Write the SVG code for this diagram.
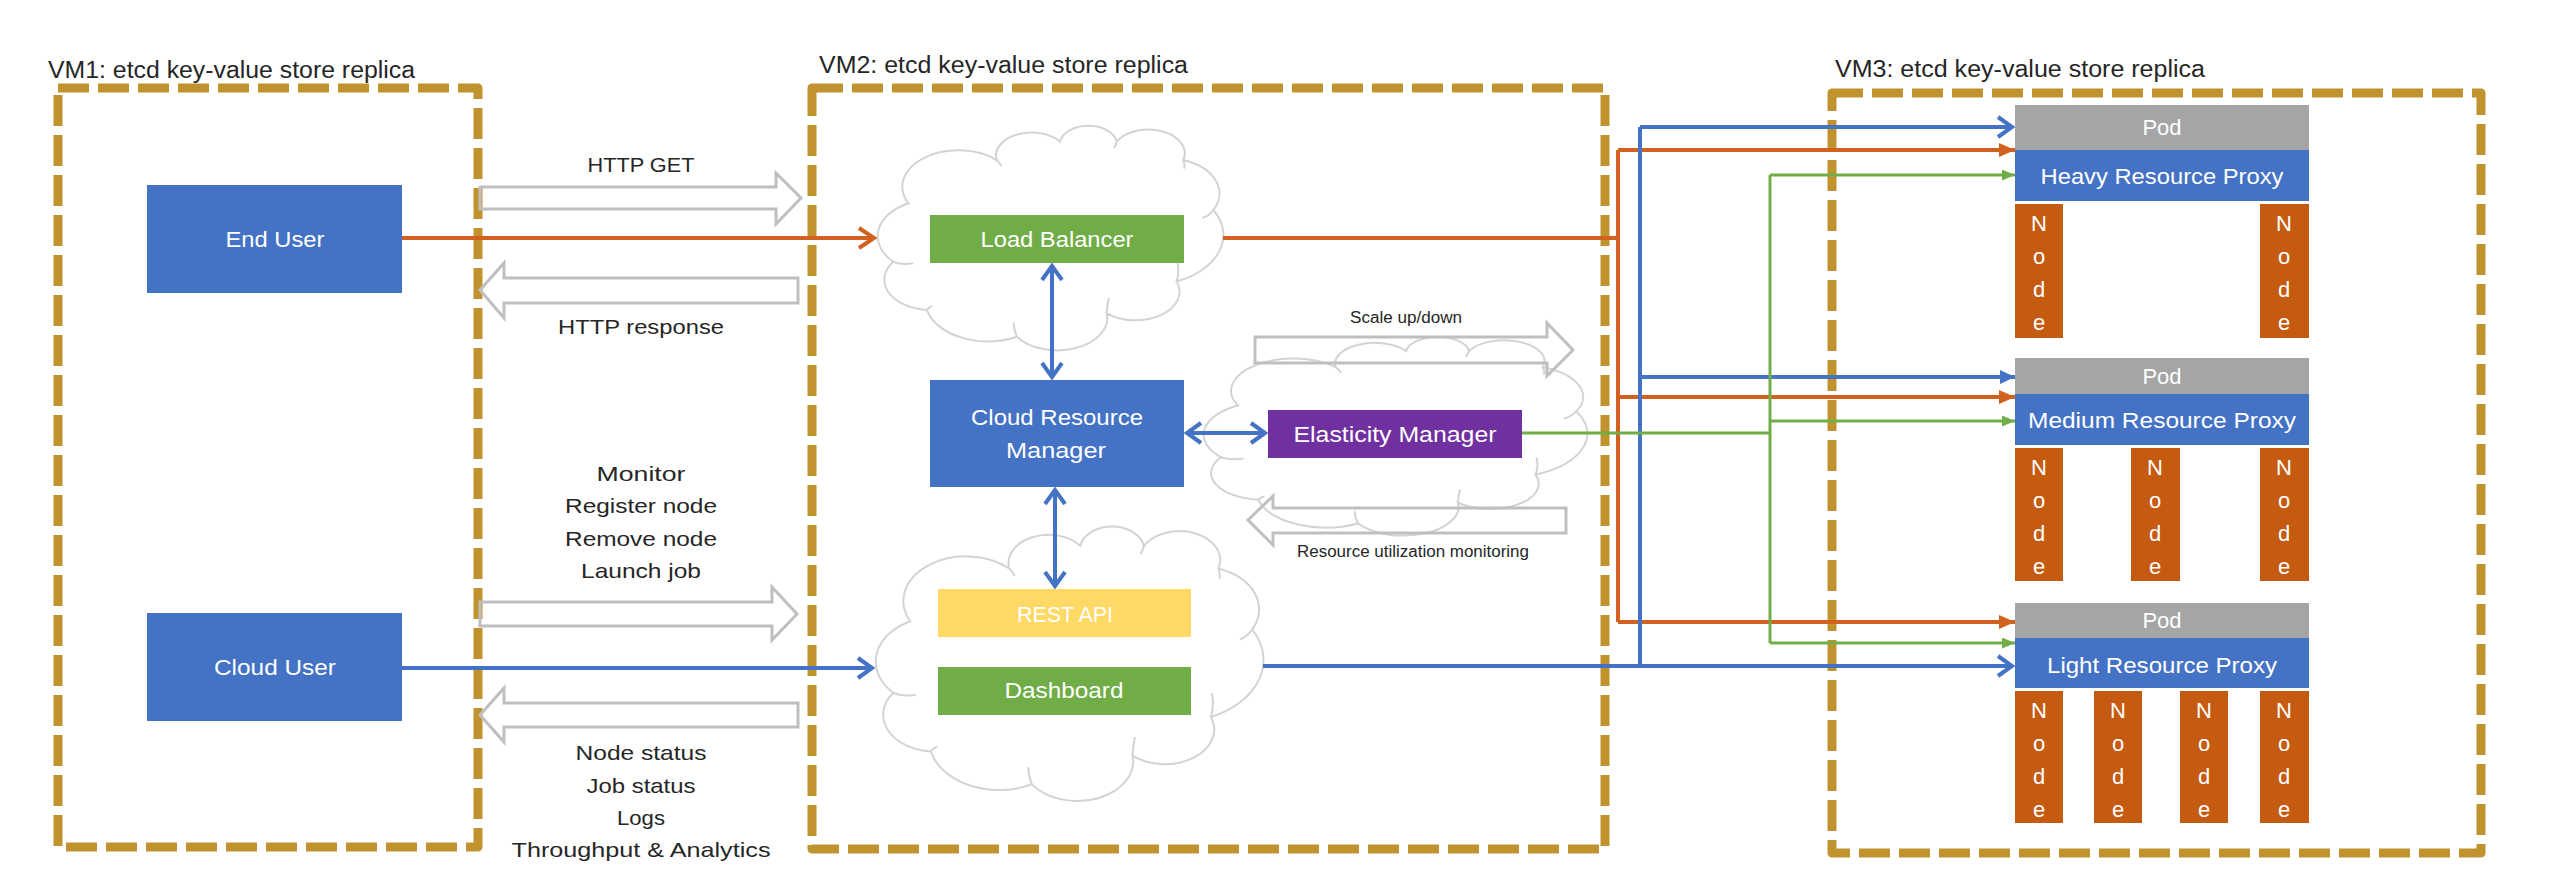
<svg xmlns="http://www.w3.org/2000/svg" width="2558" height="890" viewBox="0 0 2558 890">
<style>
  .vm{fill:none;stroke:#C0932F;stroke-width:9;stroke-dasharray:31 9;stroke-linejoin:round}
  .lbl{font-family:"Liberation Sans",Arial,sans-serif;fill:#262626}
  .vml{font-size:23px}
  .t21{font-size:21px;text-anchor:middle}
  .sm{font-size:16px;text-anchor:middle}
  .bx{font-family:"Liberation Sans",Arial,sans-serif;font-size:22px;fill:#ffffff;text-anchor:middle}
  .blue{fill:#4472C4}
  .green{fill:#70AD47}
  .yellow{fill:#FFD966}
  .purple{fill:#7030A0}
  .pod{fill:#A5A5A5}
  .node{fill:#C55A11}
  .cloud{fill:#ffffff;stroke:#D3D3D3;stroke-width:2}
  .hook{fill:none;stroke:#D3D3D3;stroke-width:2}
  .blk{fill:none;stroke:#BFBFBF;stroke-width:3;stroke-linejoin:miter}
  .lo{stroke:#D2601E;stroke-width:4;fill:none}
  .lb{stroke:#4472C4;stroke-width:4;fill:none}
  .lg{stroke:#70AD47;stroke-width:3;fill:none}
</style>
<defs>
  <g id="cloudShape">
    <path class="cloud" vector-effect="non-scaling-stroke" d="M4.7,59.9 A16.5,16.5 0 0 1 9.1,33.9 A16.2,16.2 0 0 1 34.6,14.7 A10.3,10.3 0 0 1 52.9,6.5 A8.3,8.3 0 0 1 69.3,6.5 A10.5,10.5 0 0 1 88.5,14.7 A15.8,15.8 0 0 1 97.2,36.9 A22.6,22.6 0 0 1 86.6,68.7 A12.7,12.7 0 0 1 66.4,82.8 A14.4,14.4 0 0 1 40.4,93.2 A18.1,18.1 0 0 1 14.4,81.3 A13.5,13.5 0 0 1 4.7,59.9 Z"/>
    <path class="hook" vector-effect="non-scaling-stroke" d="M4.7,59.9 Q7,61.5 10.5,60.6 M34.6,14.7 Q35.5,16 36,17.5 M69.3,6.5 Q69,8 68.5,9.5 M88.5,14.7 Q89,16.5 88.8,18.5 M97.2,36.9 Q96,39.5 94,40.5 M86.6,68.7 Q87.5,64 86.8,60 M66.4,82.8 Q66.5,79 67,76 M40.4,93.2 Q39.5,90 39.5,87 M14.4,81.3 Q15,80 16,79.5"/>
  </g>
  <marker id="chevB" viewBox="0 0 24 24" refX="19" refY="12" markerWidth="24" markerHeight="24" markerUnits="userSpaceOnUse" orient="auto-start-reverse">
    <path d="M5,2 L19,12 L5,22" fill="none" stroke="#4472C4" stroke-width="4"/>
  </marker>
  <marker id="chevO" viewBox="0 0 24 24" refX="19" refY="12" markerWidth="24" markerHeight="24" markerUnits="userSpaceOnUse" orient="auto-start-reverse">
    <path d="M4,2 L19,12 L4,22" fill="none" stroke="#D2601E" stroke-width="4"/>
  </marker>
  <marker id="triO" viewBox="0 0 16 14" refX="16" refY="7" markerWidth="16" markerHeight="14" markerUnits="userSpaceOnUse" orient="auto">
    <path d="M0,0 L16,7 L0,14 Z" fill="#D2601E"/>
  </marker>
  <marker id="triB" viewBox="0 0 15 14" refX="15" refY="7" markerWidth="15" markerHeight="14" markerUnits="userSpaceOnUse" orient="auto">
    <path d="M0,0 L15,7 L0,14 Z" fill="#4472C4"/>
  </marker>
  <marker id="triG" viewBox="0 0 13 11" refX="13" refY="5.5" markerWidth="13" markerHeight="11" markerUnits="userSpaceOnUse" orient="auto">
    <path d="M0,0 L13,5.5 L0,11 Z" fill="#70AD47"/>
  </marker>
</defs>

<rect width="2558" height="890" fill="#ffffff"/>

<!-- VM containers -->
<g id="vm1">
  <rect class="vm" x="58" y="88" width="420" height="759"/>
  <text class="lbl vml" x="48" y="78" textLength="367" lengthAdjust="spacingAndGlyphs">VM1: etcd key-value store replica</text>
</g>
<g id="vm2">
  <rect class="vm" x="812" y="88" width="793" height="761"/>
  <text class="lbl vml" x="819" y="73" textLength="369" lengthAdjust="spacingAndGlyphs">VM2: etcd key-value store replica</text>
</g>
<g id="vm3">
  <rect class="vm" x="1832" y="93" width="649" height="760"/>
  <text class="lbl vml" x="1835" y="77" textLength="370" lengthAdjust="spacingAndGlyphs">VM3: etcd key-value store replica</text>
</g>

<!-- clouds -->
<g id="cloud-lb"><use href="#cloudShape" transform="translate(877,127) scale(3.46,2.25)"/></g>
<g id="cloud-em"><use href="#cloudShape" transform="translate(1203,338) scale(3.84,1.99)"/></g>
<g id="cloud-api"><use href="#cloudShape" transform="translate(875,528) scale(3.88,2.75)"/></g>

<!-- block arrows and their labels -->
<g id="http-get">
  <path class="blk" d="M480,187 H776 V173 L801,198 L776,224 V209 H480 Z"/>
  <text class="lbl t21" x="641" y="172" textLength="107" lengthAdjust="spacingAndGlyphs">HTTP GET</text>
</g>
<g id="http-response">
  <path class="blk" d="M480,290 L504,263 V278 H798 V303 H504 V318 Z"/>
  <text class="lbl t21" x="641" y="334" textLength="166" lengthAdjust="spacingAndGlyphs">HTTP response</text>
</g>
<g id="cloud-requests">
  <path class="blk" d="M480,602 H772 V587 L797,614 L772,640 V626 H480 Z"/>
  <text class="lbl t21" x="641" y="481" textLength="89" lengthAdjust="spacingAndGlyphs">Monitor</text>
  <text class="lbl t21" x="641" y="513" textLength="152" lengthAdjust="spacingAndGlyphs">Register node</text>
  <text class="lbl t21" x="641" y="546" textLength="152" lengthAdjust="spacingAndGlyphs">Remove node</text>
  <text class="lbl t21" x="641" y="578" textLength="120" lengthAdjust="spacingAndGlyphs">Launch job</text>
</g>
<g id="cloud-responses">
  <path class="blk" d="M480,715 L504,688 V703 H798 V727 H504 V742 Z"/>
  <text class="lbl t21" x="641" y="760" textLength="131" lengthAdjust="spacingAndGlyphs">Node status</text>
  <text class="lbl t21" x="641" y="793" textLength="109" lengthAdjust="spacingAndGlyphs">Job status</text>
  <text class="lbl t21" x="641" y="825" textLength="48" lengthAdjust="spacingAndGlyphs">Logs</text>
  <text class="lbl t21" x="641" y="857" textLength="259" lengthAdjust="spacingAndGlyphs">Throughput &amp; Analytics</text>
</g>
<g id="scale-arrow">
  <path class="blk" d="M1255,337 H1547 V323 L1573,350 L1547,376 V363 H1255 Z"/>
  <text class="lbl sm" x="1406" y="323" textLength="112" lengthAdjust="spacingAndGlyphs">Scale up/down</text>
</g>
<g id="monitor-arrow">
  <path class="blk" d="M1248,520 L1273,496 V508 H1566 V533 H1273 V545 Z"/>
  <text class="lbl sm" x="1413" y="557" textLength="232" lengthAdjust="spacingAndGlyphs">Resource utilization monitoring</text>
</g>

<!-- connectors -->
<g id="connectors">
  <path class="lo" d="M402,238 H874" marker-end="url(#chevO)"/>
  <path class="lb" d="M402,668 H872" marker-end="url(#chevB)"/>
  <path class="lb" d="M1052,266 V377" marker-start="url(#chevB)" marker-end="url(#chevB)"/>
  <path class="lb" d="M1187,433 H1265" marker-start="url(#chevB)" marker-end="url(#chevB)"/>
  <path class="lb" d="M1055,490 V586" marker-start="url(#chevB)" marker-end="url(#chevB)"/>

  <path class="lo" d="M1223,238 H1618"/>
  <path class="lo" d="M1618,150 V622"/>
  <path class="lo" d="M1618,150 H2015" marker-end="url(#triO)"/>
  <path class="lo" d="M1618,397 H2015" marker-end="url(#triO)"/>
  <path class="lo" d="M1618,622 H2015" marker-end="url(#triO)"/>

  <path class="lb" d="M1263,666 H2012" marker-end="url(#chevB)"/>
  <path class="lb" d="M1640,127 V666"/>
  <path class="lb" d="M1640,127 H2012" marker-end="url(#chevB)"/>
  <path class="lb" d="M1640,377 H2015" marker-end="url(#triB)"/>

  <path class="lg" d="M1522,433 H1770"/>
  <path class="lg" d="M1770,175 V643"/>
  <path class="lg" d="M1770,175 H2015" marker-end="url(#triG)"/>
  <path class="lg" d="M1770,421 H2015" marker-end="url(#triG)"/>
  <path class="lg" d="M1770,643 H2015" marker-end="url(#triG)"/>
</g>

<!-- VM1 nodes -->
<g id="end-user">
  <rect class="blue" x="147" y="185" width="255" height="108"/>
  <text class="bx" x="275" y="247" textLength="99" lengthAdjust="spacingAndGlyphs">End User</text>
</g>
<g id="cloud-user">
  <rect class="blue" x="147" y="613" width="255" height="108"/>
  <text class="bx" x="275" y="675" textLength="122" lengthAdjust="spacingAndGlyphs">Cloud User</text>
</g>

<!-- VM2 nodes -->
<g id="load-balancer">
  <rect class="green" x="930" y="215" width="254" height="48"/>
  <text class="bx" x="1057" y="247" textLength="153" lengthAdjust="spacingAndGlyphs">Load Balancer</text>
</g>
<g id="cloud-resource-manager">
  <rect class="blue" x="930" y="380" width="254" height="107"/>
  <text class="bx" x="1057" y="425" textLength="172" lengthAdjust="spacingAndGlyphs">Cloud Resource</text>
  <text class="bx" x="1056" y="458" textLength="100" lengthAdjust="spacingAndGlyphs">Manager</text>
</g>
<g id="elasticity-manager">
  <rect class="purple" x="1268" y="410" width="254" height="48"/>
  <text class="bx" x="1395" y="442" textLength="203" lengthAdjust="spacingAndGlyphs">Elasticity Manager</text>
</g>
<g id="rest-api">
  <rect class="yellow" x="938" y="589" width="253" height="48"/>
  <text class="bx" x="1065" y="622" textLength="96" lengthAdjust="spacingAndGlyphs">REST API</text>
</g>
<g id="dashboard">
  <rect class="green" x="938" y="667" width="253" height="48"/>
  <text class="bx" x="1064" y="698" textLength="119" lengthAdjust="spacingAndGlyphs">Dashboard</text>
</g>

<!-- VM3 nodes -->
<g id="heavy-pod">
  <rect class="pod" x="2015" y="105" width="294" height="45"/>
  <text class="bx" x="2162" y="135">Pod</text>
  <rect class="blue" x="2015" y="150" width="294" height="51"/>
  <text class="bx" x="2162" y="184" textLength="243" lengthAdjust="spacingAndGlyphs">Heavy Resource Proxy</text>
  <rect class="node" x="2015" y="204" width="48" height="134"/>
  <text class="bx" x="2039" y="231"><tspan x="2039">N</tspan><tspan x="2039" dy="33">o</tspan><tspan x="2039" dy="33">d</tspan><tspan x="2039" dy="33">e</tspan></text>
  <rect class="node" x="2260" y="204" width="49" height="134"/>
  <text class="bx" x="2284" y="231"><tspan x="2284">N</tspan><tspan x="2284" dy="33">o</tspan><tspan x="2284" dy="33">d</tspan><tspan x="2284" dy="33">e</tspan></text>
</g>
<g id="medium-pod">
  <rect class="pod" x="2015" y="358" width="294" height="36"/>
  <text class="bx" x="2162" y="384">Pod</text>
  <rect class="blue" x="2015" y="394" width="294" height="51"/>
  <text class="bx" x="2162" y="428" textLength="268" lengthAdjust="spacingAndGlyphs">Medium Resource Proxy</text>
  <rect class="node" x="2015" y="448" width="48" height="133"/>
  <text class="bx" x="2039" y="475"><tspan x="2039">N</tspan><tspan x="2039" dy="33">o</tspan><tspan x="2039" dy="33">d</tspan><tspan x="2039" dy="33">e</tspan></text>
  <rect class="node" x="2131" y="448" width="49" height="133"/>
  <text class="bx" x="2155" y="475"><tspan x="2155">N</tspan><tspan x="2155" dy="33">o</tspan><tspan x="2155" dy="33">d</tspan><tspan x="2155" dy="33">e</tspan></text>
  <rect class="node" x="2260" y="448" width="49" height="133"/>
  <text class="bx" x="2284" y="475"><tspan x="2284">N</tspan><tspan x="2284" dy="33">o</tspan><tspan x="2284" dy="33">d</tspan><tspan x="2284" dy="33">e</tspan></text>
</g>
<g id="light-pod">
  <rect class="pod" x="2015" y="603" width="294" height="35"/>
  <text class="bx" x="2162" y="628">Pod</text>
  <rect class="blue" x="2015" y="638" width="294" height="50"/>
  <text class="bx" x="2162" y="673" textLength="230" lengthAdjust="spacingAndGlyphs">Light Resource Proxy</text>
  <rect class="node" x="2015" y="691" width="48" height="132"/>
  <text class="bx" x="2039" y="718"><tspan x="2039">N</tspan><tspan x="2039" dy="33">o</tspan><tspan x="2039" dy="33">d</tspan><tspan x="2039" dy="33">e</tspan></text>
  <rect class="node" x="2094" y="691" width="48" height="132"/>
  <text class="bx" x="2118" y="718"><tspan x="2118">N</tspan><tspan x="2118" dy="33">o</tspan><tspan x="2118" dy="33">d</tspan><tspan x="2118" dy="33">e</tspan></text>
  <rect class="node" x="2180" y="691" width="48" height="132"/>
  <text class="bx" x="2204" y="718"><tspan x="2204">N</tspan><tspan x="2204" dy="33">o</tspan><tspan x="2204" dy="33">d</tspan><tspan x="2204" dy="33">e</tspan></text>
  <rect class="node" x="2260" y="691" width="49" height="132"/>
  <text class="bx" x="2284" y="718"><tspan x="2284">N</tspan><tspan x="2284" dy="33">o</tspan><tspan x="2284" dy="33">d</tspan><tspan x="2284" dy="33">e</tspan></text>
</g>
</svg>
